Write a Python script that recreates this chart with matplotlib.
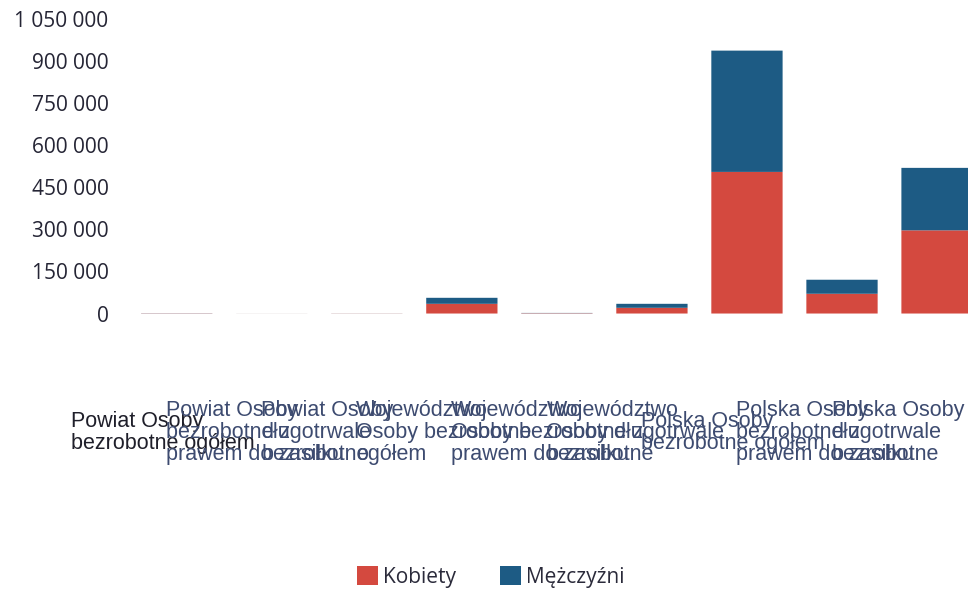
import matplotlib
matplotlib.use("Agg")
import matplotlib.pyplot as plt
from matplotlib.transforms import ScaledTranslation
from matplotlib.ticker import FuncFormatter

categories = [
    "Powiat Osoby\nbezrobotne ogółem",
    "Powiat Osoby\nbezrobotne z\nprawem do zasiłku",
    "Powiat Osoby\ndługotrwale\nbezrobotne",
    "Województwo\nOsoby bezrobotne\nogółem",
    "Województwo\nOsoby bezrobotne z\nprawem do zasiłku",
    "Województwo\nOsoby długotrwale\nbezrobotne",
    "Polska Osoby\nbezrobotne ogółem",
    "Polska Osoby\nbezrobotne z\nprawem do zasiłku",
    "Polska Osoby\ndługotrwale\nbezrobotne",
]
kobiety = [700, 120, 400, 34600, 1200, 20400, 504600, 70400, 296400]
mezczyzni = [500, 100, 250, 21400, 900, 14200, 432200, 50000, 222600]
y_ticks = [0, 150000, 300000, 450000, 600000, 750000, 900000, 1050000]
series_names = ["Kobiety", "Mężczyźni"]

RED = "#d4493f"
BLUE = "#1d5b84"

fig = plt.figure(figsize=(9.68, 5.89), dpi=100)
ax = fig.add_axes([0.1335, 0.4677, 0.8836, 0.5003])

x = list(range(len(categories)))
ax.bar(x, kobiety, width=0.75, color=RED, label=series_names[0], snap=False)
ax.bar(x, mezczyzni, width=0.75, bottom=kobiety, color=BLUE, label=series_names[1], snap=False)

ax.set_xlim(-0.5, len(categories) - 0.5)
ax.set_ylim(0, 1050000)
ax.set_yticks(y_ticks)
ax.yaxis.set_major_formatter(FuncFormatter(lambda v, p: f"{int(v):,}".replace(",", " ")))
ax.tick_params(axis="y", length=0, pad=15, labelsize=15, labelcolor="#252535")
for lab in ax.get_yticklabels():
    lab.set_fontfamily("Open Sans")

for s in ax.spines.values():
    s.set_visible(False)

ax.set_xticks(x)
ax.set_xticklabels(categories)
ax.tick_params(axis="x", length=0, pad=0)
offset = ScaledTranslation(-105.5 / 100, -119.0 / 100, fig.dpi_scale_trans)
for i, lab in enumerate(ax.get_xticklabels()):
    lab.set_fontfamily("Liberation Sans")
    lab.set_fontsize(15.5)
    lab.set_ha("left")
    lab.set_va("center")
    lab.set_multialignment("left")
    lab.set_linespacing(1.05)
    lab.set_color("#1f1f2a" if i == 0 else "#3d4b70")
    lab.set_transform(lab.get_transform() + offset)

leg = fig.legend(loc="center", bbox_to_anchor=(0.507, 0.0204), ncol=2, frameon=False,
                 handlelength=1.0, handleheight=1.0, handletextpad=0.25,
                 columnspacing=2.1, prop={"family": "Open Sans", "size": 15})
for t in leg.get_texts():
    t.set_color("#2a2a3a")

fig.savefig("out.png", dpi=100)
